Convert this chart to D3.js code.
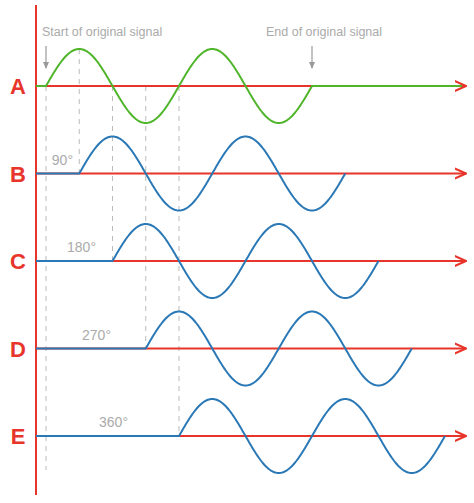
<!DOCTYPE html>
<html><head><meta charset="utf-8">
<script src="https://cdn.jsdelivr.net/npm/d3@7"></script>
<style>body{margin:0;background:#fff}</style></head>
<body><svg id="c" width="474" height="503"></svg>
<script>
const rows = ["A","B","C","D","E"];
const phases = [0, 90, 180, 270, 360];
const phaseLabels = ["", "90°", "180°", "270°", "360°"];
const colors = ["#4fb52a","#2a78b5","#2a78b5","#2a78b5","#2a78b5"];
const cycles = 2;

const svg = d3.select("#c");
const x = d3.scaleLinear().domain([0, 720]).range([46, 312]);
const yRow = d3.scalePoint().domain(rows).range([86, 436]);
const amp = 37;
const red = "#e8352b", gray = "#aaa";
const font = "Liberation Sans, Arial";

const defs = svg.append("defs");
defs.append("marker").attr("id","ar").attr("viewBox","0 0 10 10").attr("refX",9).attr("refY",5)
  .attr("markerWidth",7).attr("markerHeight",7).attr("orient","auto")
  .append("path").attr("d","M0,1L9,5L0,9").attr("fill","none").attr("stroke",red).attr("stroke-width",1.6);

// dashed guides
const g = svg.append("g").attr("stroke","#bbb").attr("stroke-dasharray","5,5").attr("stroke-width",1);
g.append("line").attr("x1",x(0)).attr("x2",x(0)).attr("y1",yRow("A")).attr("y2",470);
phases.slice(1).forEach((p,i)=>{
  const y0 = i===0 ? yRow("A")-amp : yRow("A");
  g.append("line").attr("x1",x(p)).attr("x2",x(p)).attr("y1",y0).attr("y2",yRow(rows[i+1]));
});

// red axes
svg.append("line").attr("x1",36).attr("x2",36).attr("y1",5).attr("y2",495).attr("stroke",red).attr("stroke-width",2);
rows.forEach(r=>{
  svg.append("line").attr("x1",36).attr("x2",466).attr("y1",yRow(r)).attr("y2",yRow(r))
    .attr("stroke",red).attr("stroke-width",1.8).attr("marker-end","url(#ar)");
  svg.append("text").attr("x",18).attr("y",yRow(r)+8).attr("text-anchor","middle")
    .attr("font-family",font).attr("font-weight","bold").attr("font-size",22)
    .attr("fill",red).text(r);
});

// signals
const labelRight = [0, 73, 96, 111, 128];
const line = d3.line().x(d=>d[0]).y(d=>d[1]);
rows.forEach((r,i)=>{
  const y0 = yRow(r), p = phases[i];
  const pts = [[36,y0]];
  for(let t=0;t<=360*cycles;t+=3){
    pts.push([x(t+p), y0 - amp*Math.sin(t*Math.PI/180)]);
  }
  if(i===0) pts.push([462,y0]);
  svg.append("path").attr("d",line(pts)).attr("fill","none").attr("stroke",colors[i]).attr("stroke-width",2);
  if(phaseLabels[i]) svg.append("text").attr("x",labelRight[i]).attr("y",y0-9).attr("text-anchor","end")
    .attr("font-family",font).attr("font-size",14).attr("fill",gray).text(phaseLabels[i]);
});

// annotations
svg.append("text").attr("x",42).attr("y",36).attr("font-family",font).attr("font-size",12.5).attr("fill",gray).text("Start of original signal");
svg.append("text").attr("x",266).attr("y",36).attr("font-family",font).attr("font-size",12.5).attr("fill",gray).text("End of original signal");
[x(0), x(720)].forEach(ax=>{
  svg.append("line").attr("x1",ax).attr("x2",ax).attr("y1",46).attr("y2",68).attr("stroke","#999").attr("stroke-width",1.2);
  svg.append("path").attr("d",`M${ax-3},${62}L${ax},${69}L${ax+3},${62}Z`).attr("fill","#999");
});
</script></body></html>
